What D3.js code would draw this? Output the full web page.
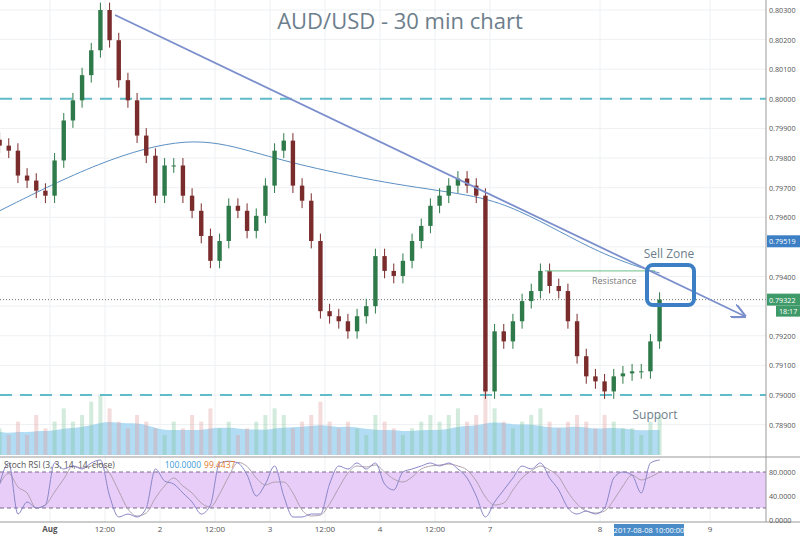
<!DOCTYPE html>
<html><head><meta charset="utf-8">
<script src="https://cdn.jsdelivr.net/npm/d3@7"></script>
<style>body{margin:0;background:#fff}svg{font-family:"Open Sans",Arial,sans-serif}</style>
</head><body><svg id="c" width="800" height="536"></svg>
<script>
// hours from Aug 1 00:00 (weekend removed), one candle every 2 hours starting at -11
const closes=[0.79842,0.79825,0.79741,0.79724,0.79690,0.79673,0.79792,0.79927,0.79995,0.80080,0.80164,0.80300,0.80198,0.80063,0.79995,0.79876,0.79808,0.79673,0.79775,0.79775,0.79673,0.79622,0.79537,0.79453,0.79520,0.79639,0.79622,0.79554,0.79605,0.79707,0.79825,0.79859,0.79707,0.79656,0.79520,0.79283,0.79266,0.79249,0.79215,0.79266,0.79300,0.79469,0.79419,0.79402,0.79453,0.79520,0.79571,0.79639,0.79673,0.79707,0.79731,0.79707,0.79673,0.79012,0.79215,0.79181,0.79249,0.79317,0.79351,0.79419,0.79368,0.79351,0.79249,0.79131,0.79063,0.79046,0.79012,0.79063,0.79073,0.79080,0.79080,0.79181,0.79322];
const volumes=[4,3,5,3,6,4,5,7,5,6,8,9,7,5,4,6,5,4,3,5,4,6,5,7,4,5,3,4,5,6,7,6,4,5,6,8,5,4,5,4,3,6,5,4,3,4,5,6,5,6,7,5,6,10,7,5,4,5,6,7,5,4,5,6,5,4,6,5,4,4,3,5,6];
const stochK=[60,95,10,30,20,25,95,85,90,85,95,100,40,5,10,5,20,85,65,60,45,30,10,25,95,98,95,75,40,60,90,40,5,5,10,10,60,90,85,95,85,95,60,50,80,85,90,95,90,95,85,70,40,5,30,50,70,90,85,95,70,50,20,10,15,10,20,70,80,75,45,95,100];
const maHours=[-11,11,30.5,43.6,54.5,76,94,102.5,111,120,128.7,133];
const maValues=[0.79622,0.79792,0.79876,0.79825,0.79775,0.79707,0.79673,0.79622,0.79554,0.79480,0.79430,0.79412];
const trendHours=[14.2,151.6], trendPrices=[0.80283,0.79266];
const dayTicks=[0,12,24,36,48,60,72,84,96,120,144];
const dayLabels=["Aug","12:00","2","12:00","3","12:00","4","12:00","7","8","9"];
const priceTicks=[0.789,0.790,0.791,0.792,0.793,0.794,0.795,0.796,0.797,0.798,0.799,0.800,0.801,0.802,0.803];
const levels=[0.800,0.790];
const resistance=0.79419, lastPrice=0.79322, maLast=0.79519;

const svg=d3.select("#c");
const W=766;
const x=d3.scaleLinear().domain([0,120]).range([50,600]);
const y=d3.scaleLinear().domain([0.79,0.803]).range([395,10]);
const yR=d3.scaleLinear().domain([0,100]).range([520,460]);
const hours=closes.map((c,i)=>-11+2*i);
const g=svg.append("g");
priceTicks.forEach(p=>g.append("line").attr("x1",0).attr("x2",W).attr("y1",y(p)).attr("y2",y(p)).attr("stroke","#eef0f2"));
dayTicks.forEach(h=>g.append("line").attr("x1",x(h)).attr("x2",x(h)).attr("y1",0).attr("y2",522).attr("stroke","#eef0f2"));
const yV=d3.scaleLinear().domain([0,12]).range([455,375]);
const vMA=volumes.map((v,i)=>d3.mean(volumes.slice(Math.max(0,i-5),i+1)));
g.append("path").datum(vMA).attr("fill","#9fd3f0").attr("opacity",0.8)
 .attr("d",d3.area().x((d,i)=>x(hours[i])).y0(455).y1(d=>yV(d*0.5+1.5)).curve(d3.curveBasis));
volumes.forEach((v,i)=>{const up=i==0||closes[i]>=closes[i-1];
 g.append("rect").attr("x",x(hours[i])-2).attr("width",4).attr("y",yV(v)).attr("height",455-yV(v))
 .attr("fill",up?"#7fc79a":"#e39a9a").attr("opacity",0.35);});
levels.forEach(p=>g.append("line").attr("x1",0).attr("x2",W).attr("y1",y(p)).attr("y2",y(p)).attr("stroke","#5fbcc8").attr("stroke-width",2).attr("stroke-dasharray","12,8"));
g.append("line").attr("x1",0).attr("x2",W).attr("y1",y(lastPrice)).attr("y2",y(lastPrice)).attr("stroke","#777").attr("stroke-dasharray","1,2");
g.append("path").datum(maHours.map((h,i)=>[h,maValues[i]])).attr("fill","none").attr("stroke","#5b8fc2").attr("stroke-width",1)
 .attr("d",d3.line().x(d=>x(d[0])).y(d=>y(d[1])).curve(d3.curveBasis));
closes.forEach((c,i)=>{const o=i?closes[i-1]:c+0.0002;const up=c>=o;
 const hi=Math.max(o,c)+0.00025,lo=Math.min(o,c)-0.00025;const cx=x(hours[i]);
 const col=up?"#2f7a4a":"#7a2c2c";
 g.append("line").attr("x1",cx).attr("x2",cx).attr("y1",y(hi)).attr("y2",y(lo)).attr("stroke",col);
 g.append("rect").attr("x",cx-2.2).attr("width",4.4).attr("y",y(Math.max(o,c))).attr("height",Math.max(1,Math.abs(y(o)-y(c)))).attr("fill",col);});
g.append("line").attr("x1",545).attr("x2",655).attr("y1",y(resistance)).attr("y2",y(resistance)).attr("stroke","#6cbf8a");
g.append("text").attr("x",592).attr("y",284).attr("font-size",9).attr("fill","#777").text("Resistance");
svg.append("defs").append("marker").attr("id","ar").attr("viewBox","0 0 10 10").attr("refX",9).attr("refY",5).attr("markerWidth",8).attr("markerHeight",8).attr("orient","auto")
 .append("path").attr("d","M0,0L10,5L0,10").attr("fill","none").attr("stroke","#7b8fcc").attr("stroke-width",1.5);
g.append("line").attr("x1",x(trendHours[0])).attr("y1",y(trendPrices[0])).attr("x2",x(trendHours[1])).attr("y2",y(trendPrices[1]))
 .attr("stroke","#7b8fcc").attr("stroke-width",1.8).attr("marker-end","url(#ar)");
g.append("rect").attr("x",647).attr("y",265).attr("width",47).attr("height",40).attr("rx",6).attr("fill","none").attr("stroke","#3d7fc4").attr("stroke-width",4);
g.append("text").attr("x",669).attr("y",258).attr("text-anchor","middle").attr("font-size",12).attr("fill","#6d7e8c").text("Sell Zone");
g.append("text").attr("x",655).attr("y",419).attr("text-anchor","middle").attr("font-size",12).attr("fill","#6d7e8c").text("Support");
g.append("text").attr("x",400).attr("y",29).attr("text-anchor","middle").attr("font-size",22).attr("fill","#6d7e8c").text("AUD/USD - 30 min chart");
g.append("line").attr("x1",0).attr("x2",800).attr("y1",457).attr("y2",457).attr("stroke","#999");
g.append("rect").attr("x",0).attr("width",W).attr("y",yR(80)).attr("height",yR(20)-yR(80)).attr("fill","#e8cdf8");
[80,20].forEach(v=>g.append("line").attr("x1",0).attr("x2",W).attr("y1",yR(v)).attr("y2",yR(v)).attr("stroke","#7a6a8a").attr("stroke-dasharray","4,3"));
const stochD=stochK.map((v,i)=>d3.mean(stochK.slice(Math.max(0,i-2),i+1)));
g.append("path").datum(stochD).attr("fill","none").attr("stroke","#b0a0b0").attr("d",d3.line().x((d,i)=>x(hours[i])).y(d=>yR(d)).curve(d3.curveMonotoneX));
g.append("path").datum(stochK).attr("fill","none").attr("stroke","#8a86c8").attr("d",d3.line().x((d,i)=>x(hours[i])).y(d=>yR(d)).curve(d3.curveMonotoneX));
const lt=g.append("text").attr("x",4).attr("y",468).attr("font-size",8.5);
lt.append("tspan").attr("fill","#555").text("Stoch RSI (3, 3, 14, 14, close)");
lt.append("tspan").attr("fill","#3a9ad9").attr("dx",50).text("100.0000");
lt.append("tspan").attr("fill","#e07b2a").attr("dx",3).text("99.4437");
g.append("line").attr("x1",W).attr("x2",W).attr("y1",0).attr("y2",522).attr("stroke","#999");
g.append("line").attr("x1",0).attr("x2",800).attr("y1",522).attr("y2",522).attr("stroke","#999");
priceTicks.forEach(p=>{if(Math.abs(p-0.795)<1e-6||Math.abs(p-0.793)<1e-6)return;
 g.append("text").attr("x",769).attr("y",y(p)+3).attr("font-size",7.2).attr("fill","#555").text(p.toFixed(5));});
[80,40,0].forEach(v=>g.append("text").attr("x",769).attr("y",yR(v)+3).attr("font-size",7.2).attr("fill","#555").text(v.toFixed(4)));
dayTicks.forEach((h,i)=>g.append("text").attr("x",x(h)).attr("y",532).attr("text-anchor","middle").attr("font-size",8).attr("fill","#555").attr("font-weight",dayLabels[i]=="Aug"?"bold":"normal").text(dayLabels[i]));
g.append("rect").attr("x",614).attr("y",524).attr("width",70).attr("height",12).attr("fill","#4a8cc8");
g.append("text").attr("x",649).attr("y",533).attr("text-anchor","middle").attr("font-size",7.5).attr("fill","#fff").text("2017-08-08 10:00:00");
[[maLast,"#3d7fc4"],[lastPrice,"#3f9a6a"]].forEach(([p,c])=>{
 g.append("rect").attr("x",767).attr("y",y(p)-6).attr("width",33).attr("height",12).attr("fill",c);
 g.append("text").attr("x",769).attr("y",y(p)+3).attr("font-size",7.2).attr("fill","#fff").text(p.toFixed(5));});
g.append("rect").attr("x",776).attr("y",y(lastPrice)+6).attr("width",24).attr("height",11).attr("fill","#3f9a6a");
g.append("text").attr("x",779).attr("y",y(lastPrice)+14).attr("font-size",7.2).attr("fill","#fff").text("18:17");
</script></body></html>
